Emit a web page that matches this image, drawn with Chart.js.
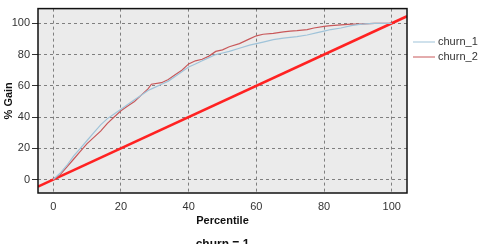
<!DOCTYPE html>
<html>
<head>
<meta charset="utf-8">
<script src="https://cdn.jsdelivr.net/npm/chart.js@4"></script>
<style>
  html, body { margin: 0; padding: 0; background: #fff; }
  #wrap { width: 483px; height: 244px; }
</style>
</head>
<body>
<div id="wrap"><canvas id="gainChart" width="483" height="244"></canvas></div>
<script>
// percentile positions
const pctChurn1 = [0, 2, 4, 6, 8, 10, 12, 14, 16, 18, 20, 22, 24, 26, 28, 30, 32, 34, 36, 38, 40, 42, 44, 46, 48, 50, 52, 55, 58, 60, 62, 65, 68, 70, 72, 75, 78, 80, 82, 85, 88, 90, 92, 95, 98, 100];
const gainChurn1 = [0, 4, 9, 15, 20, 25, 30, 35, 39, 42, 45, 48, 51, 54, 57, 59, 61, 63, 66, 69, 72, 74, 76, 78, 80, 81, 82, 84, 86, 87, 88, 89.5, 90.5, 91, 91.5, 92.5, 94, 95, 96, 97, 98.5, 99.2, 99.6, 100, 100, 100];
const pctChurn2 = [0, 2, 4, 6, 8, 10, 12, 14, 16, 18, 20, 22, 24, 26, 28, 29, 32, 34, 36, 38, 40, 42, 44, 46, 48, 50, 52, 55, 58, 60, 62, 65, 68, 70, 72, 75, 77, 80, 82, 85, 88, 90, 95, 100];
const gainChurn2 = [0, 3, 8, 13, 18, 23, 27, 31, 36, 40, 44, 47, 50, 54, 58, 61, 62, 64, 67, 70, 74, 76, 77, 79, 82, 83, 85, 87, 90, 92, 93, 93.5, 94.5, 95, 95.3, 96, 97, 98, 98.5, 99, 99.5, 99.5, 100, 100];
// reference diagonal (random model), y = x across the whole axis range
const baselineX = [-4.5, 104.5];
const baselineY = [-4.5, 104.5];
const xTicks = [0, 20, 40, 60, 80, 100];
const yTicks = [0, 20, 40, 60, 80, 100];

const toPoints = (xs, ys) => xs.map((x, i) => ({ x: x, y: ys[i] }));

// grey panel + black frame behind/around the plot
const framePlugin = {
    id: 'frame',
    beforeDraw(chart) {
        const { ctx, chartArea: a } = chart;
        ctx.save();
        ctx.fillStyle = '#ebebeb';
        ctx.fillRect(a.left, a.top, a.right - a.left, a.bottom - a.top);
        ctx.restore();
    },
    afterDraw(chart) {
        const { ctx, chartArea: a } = chart;
        ctx.save();
        ctx.strokeStyle = '#111';
        ctx.lineWidth = 1.5;
        ctx.strokeRect(a.left, a.top, a.right - a.left, a.bottom - a.top);

        // legend on the right
        ctx.font = '11px "Liberation Sans", Arial, sans-serif';
        ctx.textBaseline = 'middle';
        ctx.fillStyle = '#333';
        chart.data.datasets.filter(d => d.showInLegend).forEach((d, i) => {
            const y = 42 + i * 15;
            ctx.strokeStyle = d.borderColor;
            ctx.lineWidth = 1;
            ctx.beginPath();
            ctx.moveTo(413, y);
            ctx.lineTo(435, y);
            ctx.stroke();
            ctx.fillText(d.label, 438, y);
        });

        // panel caption below, clipped by the canvas edge
        ctx.font = 'bold 12px "Liberation Sans", Arial, sans-serif';
        ctx.textAlign = 'center';
        ctx.textBaseline = 'top';
        ctx.fillStyle = '#111';
        ctx.fillText('churn = 1', (a.left + a.right) / 2, 239);
        ctx.restore();
    }
};

const ctx = document.getElementById('gainChart').getContext('2d');
new Chart(ctx, {
    type: 'scatter',
    data: {
        datasets: [
            {
                label: 'churn_1',
                showInLegend: true,
                data: toPoints(pctChurn1, gainChurn1),
                showLine: true,
                borderColor: '#9fc3d9',
                borderWidth: 1.2,
                pointRadius: 0,
                tension: 0
            },
            {
                label: 'churn_2',
                showInLegend: true,
                data: toPoints(pctChurn2, gainChurn2),
                showLine: true,
                borderColor: '#c8585a',
                borderWidth: 1.2,
                pointRadius: 0,
                tension: 0
            },
            {
                label: 'baseline',
                data: toPoints(baselineX, baselineY),
                showLine: true,
                borderColor: '#ff2222',
                borderWidth: 2.5,
                pointRadius: 0
            }
        ]
    },
    options: {
        responsive: false,
        animation: false,
        layout: { padding: { left: 0, right: 76, top: 4, bottom: 0 } },
        plugins: {
            legend: { display: false },
            tooltip: { enabled: false }
        },
        scales: {
            x: {
                type: 'linear',
                min: -4.5,
                max: 104.5,
                afterFit: s => { s.height = 51; },
                afterBuildTicks: s => { s.ticks = xTicks.map(v => ({ value: v })); },
                ticks: {
                    includeBounds: false,
                    color: '#333',
                    padding: 2,
                    maxRotation: 0,
                    font: { family: '"Liberation Sans", Arial, sans-serif', size: 11 }
                },
                grid: {
                    color: '#7f7f7f',
                    lineWidth: 1,
                    drawTicks: true,
                    tickLength: 5,
                    tickColor: 'rgba(0,0,0,0)',
                    tickBorderDash: []
                },
                border: { display: false, dash: [3, 3] },
                title: {
                    display: true,
                    text: 'Percentile',
                    color: '#111',
                    padding: { top: 0, bottom: 16 },
                    font: { family: '"Liberation Sans", Arial, sans-serif', size: 11, weight: 'bold' }
                }
            },
            y: {
                type: 'linear',
                min: -8.6,
                max: 109.4,
                afterFit: s => { s.width = 38; },
                afterBuildTicks: s => { s.ticks = yTicks.map(v => ({ value: v })); },
                ticks: {
                    includeBounds: false,
                    color: '#333',
                    padding: 2,
                    font: { family: '"Liberation Sans", Arial, sans-serif', size: 11 }
                },
                grid: {
                    color: '#7f7f7f',
                    lineWidth: 1,
                    drawTicks: true,
                    tickLength: 6,
                    tickColor: '#333',
                    tickBorderDash: []
                },
                border: { display: false, dash: [3, 3] },
                title: {
                    display: true,
                    text: '% Gain',
                    color: '#111',
                    padding: { top: 2, bottom: 0 },
                    font: { family: '"Liberation Sans", Arial, sans-serif', size: 11, weight: 'bold' }
                }
            }
        }
    },
    plugins: [framePlugin]
});
</script>
</body>
</html>
